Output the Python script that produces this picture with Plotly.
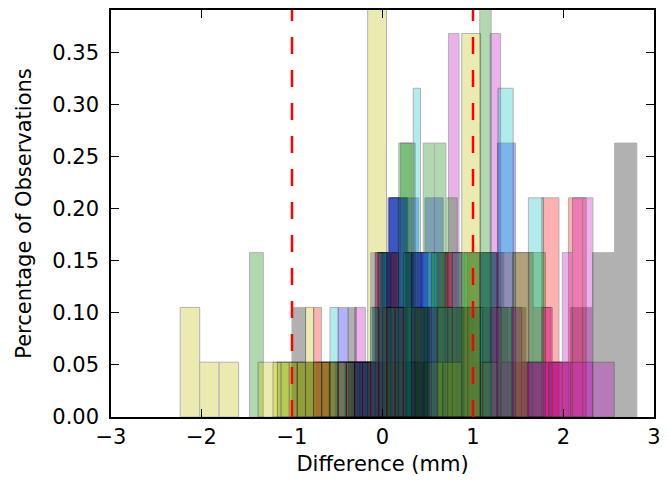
import plotly.graph_objects as go

# Per-subject histograms of measurement differences (mm).
# Each subject: first bin edge, bin width, and observation counts per bin.
bin_starts = [-0.72, -1.47, 0.05, -0.38, -0.305, -2.235, 0.36,
              -0.53, -0.05, 0.30, 0.10, 1.20, -0.164, -1.00,
              -0.49, 0.00, -0.76, -0.58, 1.60, -1.21, -0.38]
bin_widths = [0.16, 0.153, 0.19, 0.08, 0.115, 0.215, 0.245,
              0.20, 0.125, 0.195, 0.168, 0.1125, 0.208, 0.15,
              0.11, 0.18, 0.085, 0.09, 0.24, 0.09, 0.09]
bin_counts = [
    [1, 1, 1, 1, 3, 4, 4, 3, 3, 2],
    [3, 0, 1, 1, 1, 1, 1, 1, 1, 1],
    [2, 3, 2, 3, 2, 1, 2, 1, 1, 4],
    [1, 1, 1, 1, 3, 2, 3, 1, 2, 6],
    [2, 1, 1, 2, 2, 1, 2, 1, 2, 7, 2, 3, 2, 7],
    [2, 1, 1, 0, 1, 1, 1, 1, 1, 1],
    [1, 2, 2, 3, 2, 1, 1, 2, 3, 5],
    [1, 1, 3, 4, 3, 4, 3, 2, 3, 5],
    [3, 4, 5, 3, 5, 5, 4, 3, 3, 8],
    [1, 2, 3, 2, 1, 3, 3, 2, 1, 4],
    [2, 1, 3, 2, 3, 2, 1, 6, 0, 4],
    [2, 1, 2, 1, 1, 2, 1, 3, 4, 4],
    [8, 1, 2, 1, 1, 7],
    [2, 1, 1, 1, 1, 1, 1, 1, 1, 1],
    [2, 1, 1, 1, 3, 4, 4, 3, 3, 2],
    [2, 5, 2, 3, 2, 3, 3, 2, 3, 3],
    [2, 1, 1, 1, 1, 1, 1, 1, 3, 2, 3, 2],
    [2, 1, 1, 1, 1, 2, 3, 2, 2, 3],
    [1, 1, 1, 1],
    [1, 1, 1, 1, 2, 1, 1, 1, 1, 1],
    [2, 1, 1, 2, 3, 3, 2, 3, 2, 2],
]
n_obs = 19
limits = [-1.0, 1.0]
x_ticks = [-3, -2, -1, 0, 1, 2, 3]
y_ticks = [0.00, 0.05, 0.10, 0.15, 0.20, 0.25, 0.30, 0.35]

# classic matplotlib colour cycle b, g, r, c, m, y, k
cycle = ["rgb(0,0,255)", "rgb(0,128,0)", "rgb(255,0,0)", "rgb(0,191,191)",
         "rgb(191,0,191)", "rgb(191,191,0)", "rgb(0,0,0)"]

fig = go.Figure()
for i, (start, width, counts) in enumerate(zip(bin_starts, bin_widths, bin_counts)):
    xs, ys = [], []
    for k, c in enumerate(counts):
        if c > 0:
            xs.append(start + width * (k + 0.5))
            ys.append(c / n_obs)
    fig.add_trace(go.Bar(
        x=xs, y=ys, width=width,
        marker=dict(color=cycle[i % len(cycle)],
                    line=dict(color="black", width=1)),
        opacity=0.3, showlegend=False,
    ))

for v in limits:
    fig.add_vline(x=v, line=dict(color="red", width=2.5, dash="17px,16px"))

font = dict(family="DejaVu Sans", size=21, color="black")
axis_common = dict(
    showline=True, linecolor="black", linewidth=1.5, mirror="ticks",
    ticks="inside", ticklen=8, tickwidth=1, tickcolor="black",
    showgrid=False, zeroline=False, tickfont=font,
)
fig.update_layout(
    barmode="overlay",
    width=668, height=484,
    margin=dict(l=111, r=7, t=10, b=67),
    paper_bgcolor="white", plot_bgcolor="white",
    font=font,
    xaxis=dict(range=[-3, 3], tickvals=x_ticks,
               title=dict(text="Difference (mm)", font=font, standoff=8),
               **axis_common),
    yaxis=dict(range=[0, 0.391], tickvals=y_ticks, tickformat=".2f",
               ticklabelstandoff=6,
               title=dict(text="Percentage of Observations", font=font, standoff=15),
               **axis_common),
)

fig.write_html("out.html")
